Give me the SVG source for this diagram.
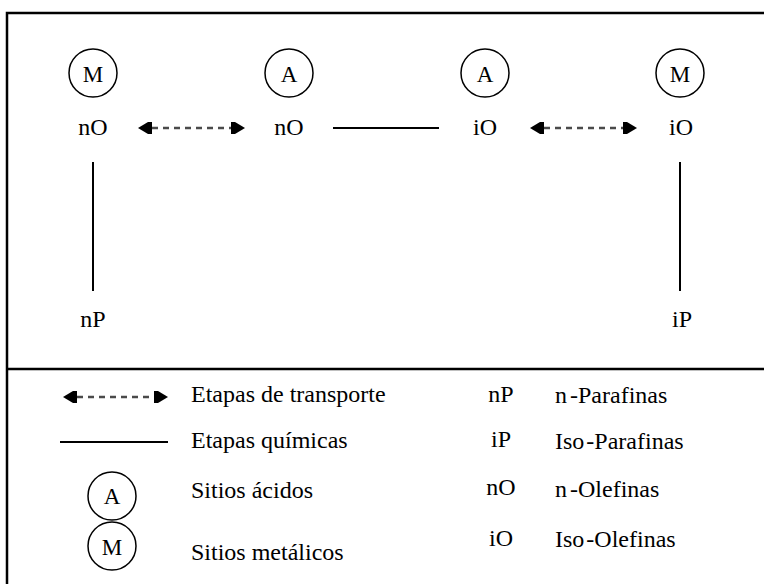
<svg xmlns="http://www.w3.org/2000/svg" width="764" height="584" viewBox="0 0 764 584">
<defs>
<style>
text{font-family:"Liberation Serif","Times New Roman",serif;fill:#000;font-size:24px}
.c{text-anchor:middle}
.ci{font-size:23px}
.circ{fill:none;stroke:#000;stroke-width:1.5}
.solid{stroke:#000;stroke-width:2;fill:none}
.dash{stroke:#4a4a4a;stroke-width:2.5;stroke-dasharray:6 5;fill:none}
.frame{stroke:#000;stroke-width:2.5;fill:none}
</style>
<path id="headL" d="M0,0 L10,-6 L14,-6 L14,6 L10,6 Z" fill="#000"/>
<path id="headR" d="M0,0 L-10,-6 L-14,-6 L-14,6 L-10,6 Z" fill="#000"/>
</defs>
<rect width="764" height="584" fill="#fff"/>
<path class="frame" d="M7,584 V13 H764"/>
<line class="frame" x1="7" y1="369" x2="764" y2="369"/>

<g id="node-M1"><circle class="circ" cx="93" cy="73" r="24"/><text class="c ci" x="93" y="82">M</text></g>
<g id="node-A1"><circle class="circ" cx="289" cy="73" r="24"/><text class="c ci" x="289" y="82">A</text></g>
<g id="node-A2"><circle class="circ" cx="485" cy="73" r="24"/><text class="c ci" x="485" y="82">A</text></g>
<g id="node-M2"><circle class="circ" cx="680" cy="73" r="24"/><text class="c ci" x="680" y="82">M</text></g>

<g id="node-nO1"><text class="c" x="93" y="135">nO</text></g>
<g id="node-nO2"><text class="c" x="289" y="135">nO</text></g>
<g id="node-iO1"><text class="c" x="485" y="135">iO</text></g>
<g id="node-iO2"><text class="c" x="681" y="135">iO</text></g>
<g id="node-nP"><text class="c" x="93" y="327">nP</text></g>
<g id="node-iP"><text class="c" x="682" y="327">iP</text></g>

<g id="connectors">
<line class="dash" x1="152" y1="128" x2="231" y2="128"/>
<use href="#headL" x="138" y="128"/>
<use href="#headR" x="245" y="128"/>
<line class="solid" x1="333" y1="128" x2="439" y2="128"/>
<line class="dash" x1="544" y1="128" x2="623" y2="128"/>
<use href="#headL" x="530" y="128"/>
<use href="#headR" x="637" y="128"/>
<line class="solid" x1="93" y1="162" x2="93" y2="291"/>
<line class="solid" x1="680" y1="162" x2="680" y2="291"/>
</g>

<g id="legend">
<line class="dash" x1="77" y1="397" x2="154" y2="397"/>
<use href="#headL" x="63" y="397"/>
<use href="#headR" x="168" y="397"/>
<text x="191" y="402">Etapas de transporte</text>
<line class="solid" x1="60" y1="442" x2="168" y2="442"/>
<text x="191" y="448">Etapas químicas</text>
<circle class="circ" cx="112" cy="496" r="24"/><text class="c ci" x="112" y="504">A</text>
<text x="191" y="498">Sitios ácidos</text>
<circle class="circ" cx="112" cy="546" r="24"/><text class="c ci" x="112" y="555">M</text>
<text x="191" y="560">Sitios metálicos</text>
<text class="c" x="501" y="402">nP</text><text x="555" y="403">n<tspan dx="3">-Parafinas</tspan></text>
<text class="c" x="501" y="447">iP</text><text x="555" y="449">Iso<tspan dx="2">-Parafinas</tspan></text>
<text class="c" x="501" y="495">nO</text><text x="555" y="497">n<tspan dx="3">-Olefinas</tspan></text>
<text class="c" x="501" y="546">iO</text><text x="555" y="547">Iso<tspan dx="2">-Olefinas</tspan></text>
</g>
</svg>
